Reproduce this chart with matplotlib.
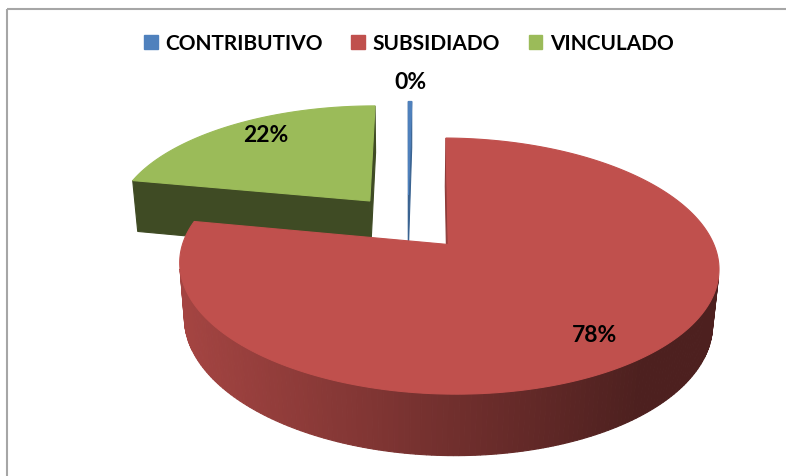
import numpy as np
import matplotlib.pyplot as plt
from matplotlib.patches import Polygon, Patch, Rectangle

categories = ['CONTRIBUTIVO', 'SUBSIDIADO', 'VINCULADO']
values = [0.25, 78, 22]
top_colors = ['#4F81BD', '#C0504D', '#9BBB59']
side_colors = ['#3A6391', '#8E3B39', '#3F4B24']
label_r = [1.25, 0.8, 0.82]
label_frac = [0.5, 0.51, 0.55]

# simple perspective camera for the 3d pie (units of pie radius)
phi = np.radians(27)
dist = 5.45
focal = 1404
cx, cy = 408, 223
thick = 0.236
explode = 0.24

s, c = np.sin(phi), np.cos(phi)
cam = np.array([0.0, -dist * c, dist * s])


def project(pts):
    pts = np.atleast_2d(pts)
    X, Y, Z = pts[:, 0], pts[:, 1], pts[:, 2]
    up = Y * s + Z * c
    depth = dist + Y * c - Z * s
    return np.column_stack([cx + focal * X / depth, cy - focal * up / depth])


def depth_of(p):
    return dist + p[1] * c - p[2] * s


def wall_color(base, x):
    rgb = np.array(plt.matplotlib.colors.to_rgb(base))
    f = np.interp(x, [180, 640], [0.86, 0.40])
    return tuple(rgb * f)


fig = plt.figure(figsize=(7.86, 4.77), dpi=100)
ax = fig.add_axes([0, 0, 1, 1])
ax.set_xlim(0, 786)
ax.set_ylim(477, 0)
ax.axis('off')

# chart area frame (only top/left edges are inside the picture)
ax.add_patch(Rectangle((7, 10), 900, 600, fill=False, ec='#A6A6A6', lw=1.5))

total = sum(values)
bounds = np.concatenate([[0], np.cumsum(values)]) / total * 2 * np.pi

slices = []
for i in range(len(values)):
    a0, a1 = bounds[i], bounds[i + 1]
    am = (a0 + a1) / 2
    off = explode * np.array([np.sin(am), np.cos(am), 0.0])
    slices.append((depth_of(off), i, a0, a1, am, off))

# far slices first
for _, i, a0, a1, am, off in sorted(slices, reverse=True):
    n = max(2, int(np.degrees(a1 - a0)) + 2)
    ang = np.linspace(a0, a1, n)
    top = np.column_stack([np.sin(ang), np.cos(ang), np.zeros(n)]) + off
    bot = top - np.array([0, 0, thick])
    apex_t = off
    apex_b = off - np.array([0, 0, thick])

    faces = []
    # outer wall
    for k in range(n - 1):
        quad = np.array([top[k], top[k + 1], bot[k + 1], bot[k]])
        mid = quad.mean(axis=0)
        am_k = (ang[k] + ang[k + 1]) / 2
        normal = np.array([np.sin(am_k), np.cos(am_k), 0])
        if normal @ (cam - mid) > 0:
            px = project(quad)
            faces.append((depth_of(mid), px, wall_color(top_colors[i], px[:, 0].mean())))
    # radial faces
    for edge, normal in [(0, np.array([-np.cos(a0), np.sin(a0), 0])),
                         (-1, np.array([np.cos(a1), -np.sin(a1), 0]))]:
        quad = np.array([apex_t, top[edge], bot[edge], apex_b])
        mid = quad.mean(axis=0)
        if normal @ (cam - mid) >= -1e-6:
            faces.append((depth_of(mid), project(quad), side_colors[i]))

    for _, px, col in sorted(faces, key=lambda f: -f[0]):
        ax.add_patch(Polygon(px, closed=True, fc=col, ec=col, lw=0.8))

    top_poly = project(np.vstack([apex_t, top]))
    ax.add_patch(Polygon(top_poly, closed=True, fc=top_colors[i], ec=top_colors[i], lw=0.8))

# percentage labels
for _, i, a0, a1, am, off in slices:
    la = a0 + label_frac[i] * (a1 - a0)
    p = off + label_r[i] * np.array([np.sin(la), np.cos(la), 0])
    lx, ly = project(p)[0]
    ax.text(lx, ly, f'{values[i] / total * 100:.0f}%', ha='center', va='center',
            fontsize=16.5, fontweight='bold', family=['Lato', 'DejaVu Sans'], color='black')

handles = [Patch(color=col) for col in top_colors]
ax.legend(handles, categories, loc='center', bbox_to_anchor=(0.52, 0.908), ncol=3,
          frameon=False, handlelength=0.65, handleheight=0.65, handletextpad=0.35,
          columnspacing=1.4, prop={'family': ['Lato', 'DejaVu Sans'], 'weight': 'bold', 'size': 15})

fig.savefig('out.png', dpi=100)
